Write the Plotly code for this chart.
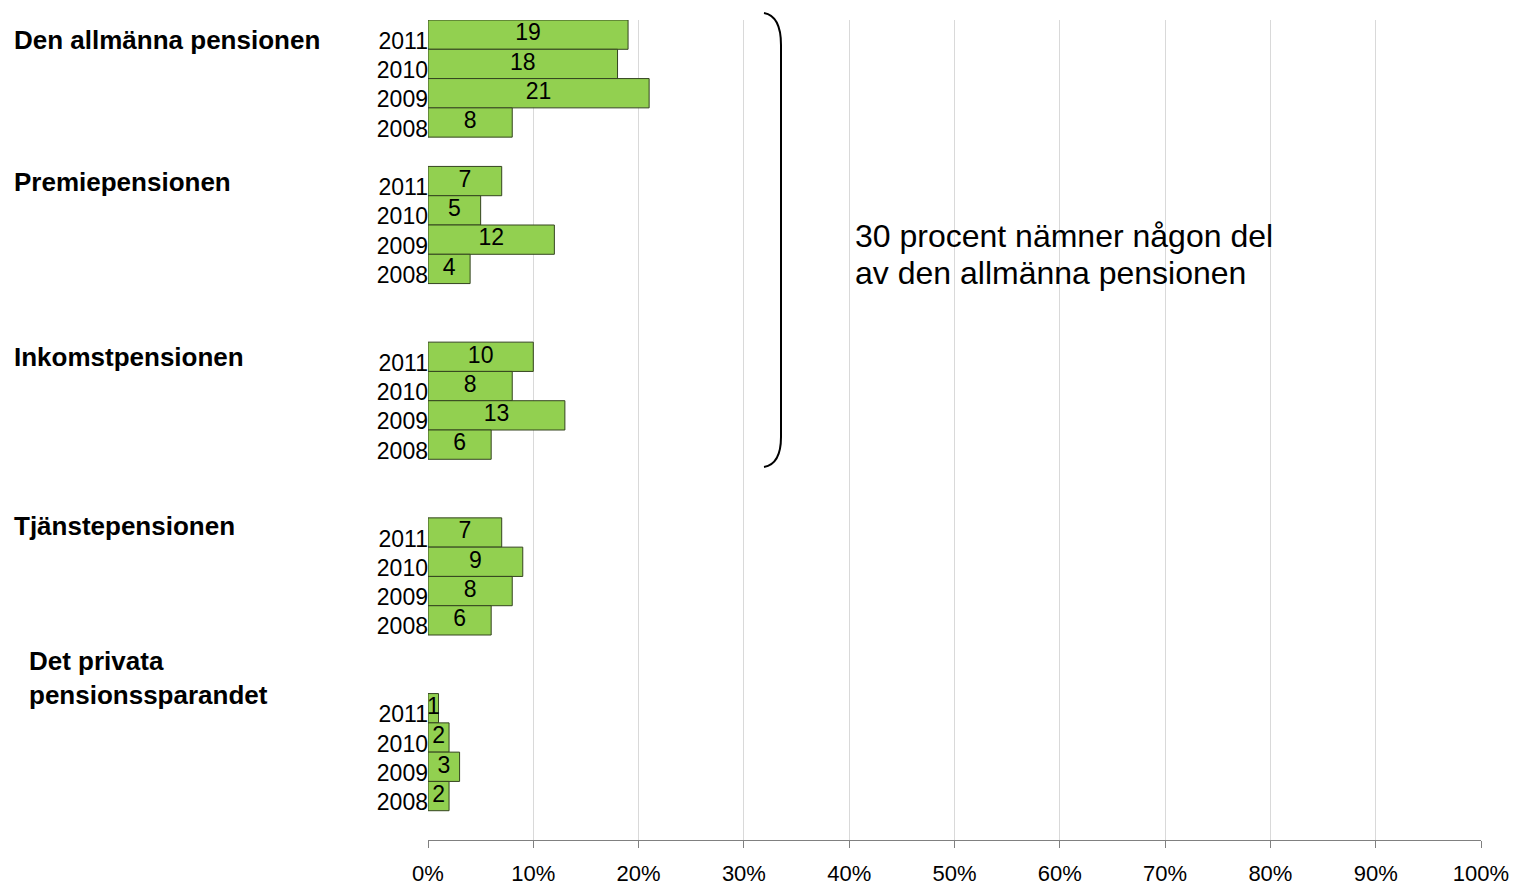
import plotly.graph_objects as go

# ---- data ----
groups = ["Den allmänna pensionen", "Premiepensionen", "Inkomstpensionen",
          "Tjänstepensionen", "Det privata<br>pensionssparandet"]
years = ["2011", "2010", "2009", "2008"]
allmanna = [19, 18, 21, 8]
premie = [7, 5, 12, 4]
inkomst = [10, 8, 13, 6]
tjanste = [7, 9, 8, 6]
privata = [1, 2, 3, 2]
series = [allmanna, premie, inkomst, tjanste, privata]
x_ticks = list(range(0, 101, 10))
note_lines = ["30 procent nämner någon del", "av den allmänna pensionen"]

# ---- layout of category slots (blank slots before each group) ----
gaps_before = [0, 1, 2, 2, 2]
total_slots = 28

slots, vals, ticktext = [], [], []
s = 0
for g, vs in enumerate(series):
    s += gaps_before[g]
    for yr, v in zip(years, vs):
        slots.append(s)
        vals.append(v)
        ticktext.append(yr)
        s += 1

FONT = "Liberation Sans, Arial, sans-serif"
W, H = 1515, 887
PL, PR, PT, PB = 428, 1481, 20, 840
L, T, R, B = PL, PT, W - PR, H - PB
pw, ph = PR - PL, PB - PT


def xpaper(px):
    return (px - PL) / pw


def ypaper(py):
    return (PB - py) / ph


fig = go.Figure()
fig.add_trace(go.Bar(
    y=slots, x=vals, orientation="h", width=1,
    marker=dict(color="#92D050", line=dict(color="#34441f", width=1)),
    hoverinfo="skip", showlegend=False))
fig.add_trace(go.Scatter(
    y=slots, x=[v / 2 for v in vals], mode="text",
    text=[str(v) for v in vals], textposition="middle center",
    textfont=dict(family=FONT, size=23, color="black"),
    hoverinfo="skip", showlegend=False))

# group labels
label_pos = [(12, 40), (12, 182), (12, 357), (12, 526), (27, 678)]
for (px, py), g in zip(label_pos, groups):
    fig.add_annotation(
        xref="paper", yref="paper", x=xpaper(px), y=ypaper(py),
        text="<b>" + g + "</b>", showarrow=False, xanchor="left", yanchor="middle",
        align="left", font=dict(family=FONT, size=26, color="black"))

for py, line in zip([236, 273], note_lines):
    fig.add_annotation(
        xref="paper", yref="paper", x=xpaper(853), y=ypaper(py),
        text=line, showarrow=False, xanchor="left", yanchor="middle", align="left",
        font=dict(family=FONT, size=32, color="black"))

# bracket
def xp(px):
    return xpaper(px) * 100


path = (f"M {xp(764)},{ypaper(13)} Q {xp(781)},{ypaper(16)} {xp(781)},{ypaper(45)} "
        f"L {xp(781)},{ypaper(437)} Q {xp(781)},{ypaper(464)} {xp(764)},{ypaper(467)}")
fig.add_shape(type="path", xref="x", yref="paper", path=path,
              line=dict(color="black", width=2))

fig.update_layout(
    template="none",
    width=W, height=H, margin=dict(l=L, r=R, t=T, b=B, autoexpand=False),
    paper_bgcolor="white", plot_bgcolor="white",
    font=dict(family=FONT, color="black"),
    xaxis=dict(range=[0, 100], tickvals=x_ticks, automargin=False,
               ticktext=[f"{t}%" for t in x_ticks],
               showgrid=True, gridcolor="#d9d9d9", gridwidth=1,
               zeroline=False, showline=True, linecolor="#808080", linewidth=1,
               ticks="outside", ticklen=7, tickcolor="#808080",
               tickfont=dict(family=FONT, size=22, color="black"),
               ticklabelstandoff=7),
    yaxis=dict(range=[total_slots - 0.5, -0.5], tickvals=slots, ticktext=ticktext,
               automargin=False,
               showgrid=False, zeroline=False, showline=False, ticks="",
               tickfont=dict(family=FONT, size=23, color="black"),
               ticklabelstandoff=-1, ticklabelshift=-6),
)
fig.write_html("out.html",
               config={"displayModeBar": False},
               post_script="document.body.style.margin='0';"
                           "document.body.style.overflow='hidden';")
